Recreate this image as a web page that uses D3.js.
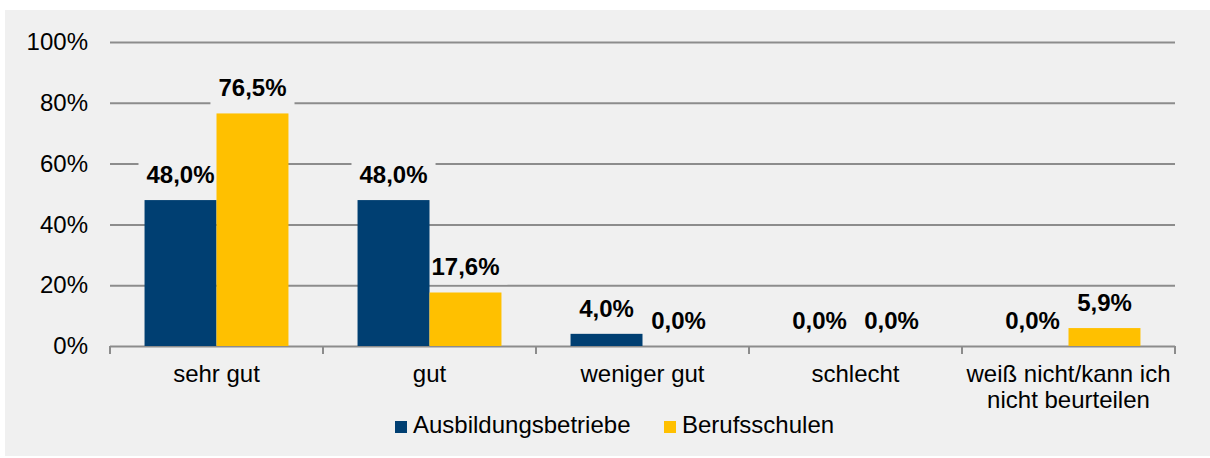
<!DOCTYPE html>
<html>
<head>
<meta charset="utf-8">
<script src="https://cdn.jsdelivr.net/npm/d3@7"></script>
<style>
  body { margin: 0; background: #ffffff; }
  text { font-family: "Liberation Sans", Arial, sans-serif; }
</style>
</head>
<body>
<div id="chart"></div>
<script>
// Data
var categories = ["sehr gut", "gut", "weniger gut", "schlecht", "weiß nicht/kann ich\nnicht beurteilen"];
var seriesNames = ["Ausbildungsbetriebe", "Berufsschulen"];
var ausbildungsbetriebe = [48.0, 48.0, 4.0, 0.0, 0.0];
var berufsschulen = [76.5, 17.6, 0.0, 0.0, 5.9];
var yTicks = [0, 20, 40, 60, 80, 100];
var colors = ["#003f72", "#ffc000"];

var totalW = 1210, totalH = 458;
var margin = {top: 42, right: 35, bottom: 112, left: 110},
    width = totalW - margin.left - margin.right,
    height = totalH - margin.top - margin.bottom;

var root = d3.select("#chart")
  .append("svg")
    .attr("width", totalW)
    .attr("height", totalH);

// grey panel
root.append("rect")
  .attr("x", 5).attr("y", 10)
  .attr("width", totalW - 5).attr("height", totalH - 12)
  .attr("fill", "#f0f0f0");

var svg = root.append("g")
  .attr("transform", "translate(" + margin.left + "," + margin.top + ")");

// Scales
var x0 = d3.scaleBand()
  .domain(categories)
  .range([0, width])
  .padding(0);

var x1 = d3.scaleBand()
  .domain(seriesNames)
  .range([0, x0.bandwidth()])
  .paddingInner(0)
  .paddingOuter(0.48);

var y = d3.scaleLinear()
  .domain([0, 100])
  .range([height, 0]);

// Y axis with gridlines
var yAxis = svg.append("g")
  .call(d3.axisLeft(y)
    .tickValues(yTicks)
    .tickSize(-width)
    .tickPadding(22)
    .tickFormat(function(d) { return d + "%"; }));
yAxis.select(".domain").remove();
yAxis.selectAll(".tick line")
  .attr("stroke", "#8c8c8c")
  .attr("stroke-width", 2);
yAxis.selectAll(".tick text")
  .attr("fill", "#000")
  .style("font-size", "24px")
  .style("font-family", "'Liberation Sans', Arial, sans-serif");

// Category boundary ticks
var bounds = categories.map(function(c) { return x0(c); }).concat([width]);
svg.append("g")
  .selectAll("line")
  .data(bounds)
  .enter()
  .append("line")
    .attr("x1", function(d) { return d; })
    .attr("x2", function(d) { return d; })
    .attr("y1", height)
    .attr("y2", height + 8)
    .attr("stroke", "#8c8c8c")
    .attr("stroke-width", 2);

// Category labels
svg.append("g")
  .selectAll("text")
  .data(categories)
  .enter()
  .append("text")
    .attr("text-anchor", "middle")
    .attr("x", function(d) { return x0(d) + x0.bandwidth() / 2; })
    .attr("y", height + 36)
    .style("font-size", "24px")
    .each(function(d) {
      var t = d3.select(this);
      d.split("\n").forEach(function(line, i) {
        t.append("tspan")
          .attr("x", x0(d) + x0.bandwidth() / 2)
          .attr("dy", i === 0 ? 0 : 26)
          .text(line);
      });
    });

// Bar rows
var rows = [];
categories.forEach(function(c, i) {
  rows.push({cat: c, series: seriesNames[0], value: ausbildungsbetriebe[i], color: colors[0]});
  rows.push({cat: c, series: seriesNames[1], value: berufsschulen[i], color: colors[1]});
});

var fmt = function(v) { return d3.format(".1f")(v).replace(".", ",") + "%"; };
var labelX = function(d) { return x0(d.cat) + x1(d.series) + x1.bandwidth() / 2; };
var labelY = function(d) { return y(d.value) - 17; };

// Label background boxes (behind bars, over gridlines)
var boxes = svg.append("g");

// Bars
svg.append("g")
  .selectAll("rect")
  .data(rows)
  .enter()
  .append("rect")
    .attr("x", function(d) { return x0(d.cat) + x1(d.series); })
    .attr("y", function(d) { return y(d.value); })
    .attr("width", x1.bandwidth())
    .attr("height", function(d) { return height - y(d.value); })
    .attr("fill", function(d) { return d.color; });

// Data labels
var texts = svg.append("g")
  .selectAll("text")
  .data(rows)
  .enter()
  .append("text")
    .attr("text-anchor", "middle")
    .attr("x", labelX)
    .attr("y", labelY)
    .style("font-size", "24px")
    .style("font-weight", "bold")
    .text(function(d) { return fmt(d.value); });

texts.each(function(d) {
  var bb = this.getBBox();
  boxes.append("rect")
    .attr("x", bb.x - 8)
    .attr("y", labelY(d) - 22)
    .attr("width", bb.width + 16)
    .attr("height", 31)
    .attr("fill", "#f0f0f0");
});

// Legend
var legend = root.append("g");
var legendX = [395, 664];
seriesNames.forEach(function(s, i) {
  legend.append("rect")
    .attr("x", legendX[i])
    .attr("y", 421)
    .attr("width", 12)
    .attr("height", 12)
    .attr("fill", colors[i]);
  legend.append("text")
    .attr("x", legendX[i] + 18)
    .attr("y", 433)
    .style("font-size", "24px")
    .text(s);
});
</script>
</body>
</html>
